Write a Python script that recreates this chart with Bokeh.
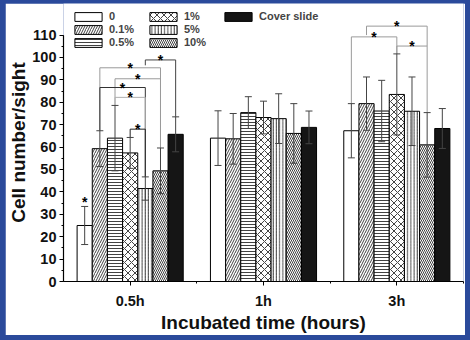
from bokeh.plotting import figure
from bokeh.models import (ColumnDataSource, Whisker, TeeHead, Range1d, FixedTicker,
                          SingleIntervalTicker)
from bokeh.layouts import column
from bokeh.embed import file_html
from bokeh.resources import INLINE
from bokeh.core.properties import value

# ---------------- data ----------------
groups = ["0.5h", "1h", "3h"]
series = ["0", "0.1%", "0.5%", "1%", "5%", "10%", "Cover slide"]

mean_0 = [25.0, 64.0, 67.3]
mean_01 = [59.3, 63.7, 79.4]
mean_05 = [64.0, 75.4, 76.1]
mean_1 = [57.4, 73.2, 83.5]
mean_5 = [41.5, 72.7, 76.0]
mean_10 = [49.4, 66.1, 61.0]
mean_cover = [65.7, 68.8, 68.3]

err_0 = [8.5, 12.2, 12.1]
err_01 = [8.0, 11.3, 11.9]
err_05 = [14.6, 7.1, 13.7]
err_1 = [6.9, 7.3, 18.1]
err_5 = [5.2, 11.1, 15.3]
err_10 = [10.2, 13.3, 14.4]
err_cover = [7.8, 7.3, 8.9]

# significance brackets: group index, left series, right series, height, leg ends
br_group = [0, 0, 0, 0, 0, 0, 2, 2, 2]
br_left = [1, 2, 1, 2, 3, 4, 0, 3, 1]
br_right = [5, 5, 4, 4, 4, 6, 3, 5, 5]
br_height = [95.4, 90.5, 86.6, 82.2, 68.0, 98.9, 109.2, 105.1, 114.0]
br_left_end = [67.3, 78.6, 67.3, 78.6, 64.3, 96.5, 79.4, 101.6, 110.0]
br_right_end = [59.6, 59.6, 46.7, 46.7, 46.7, 73.5, 101.6, 75.4, 105.1]
br_color = ["#9a9a9a", "#9a9a9a", "#333333", "#b0b0b0", "#222222", "#444444",
            "#9a9a9a", "#9a9a9a", "#9a9a9a"]

# single star above a bar
star_bar_group = [0]
star_bar_series = [0]
star_bar_y = [35.6]

means = [mean_0, mean_01, mean_05, mean_1, mean_5, mean_10, mean_cover]
errs = [err_0, err_01, err_05, err_1, err_5, err_10, err_cover]

# ---------------- styling ----------------
FONT = "Liberation Sans"
BLUE = "#2b4a9b"
BW = 0.1137
fills = ["white", "white", "white", "white", "white", "white", "#151515"]
hatches = [" ", "/", "-", "x", "|", "\\", " "]
hscales = [6, 5.0, 3.0, 7.0, 3.2, 4.0, 6]


def xpos(g, k):
    return g + 0.5 + (k - 3) * BW


p = figure(width=460, height=332, output_backend="svg", toolbar_location=None,
           x_range=Range1d(0, 3), y_range=Range1d(0, 124.1),
           min_border_left=57, min_border_right=2, min_border_top=0,
           min_border_bottom=51)
p.outline_line_color = None
p.background_fill_color = "white"
p.border_fill_color = "white"
p.xgrid.visible = False
p.ygrid.visible = False

for k, name in enumerate(series):
    xs = [xpos(g, k) for g in range(len(groups))]
    src = ColumnDataSource(dict(x=xs, top=means[k],
                                upper=[m + e for m, e in zip(means[k], errs[k])],
                                lower=[m - e for m, e in zip(means[k], errs[k])]))
    p.vbar(x="x", top="top", bottom=0, width=BW, source=src,
           fill_color=fills[k], line_color="black", line_width=1,
           hatch_pattern=hatches[k], hatch_scale=hscales[k], hatch_color="#111111",
           hatch_weight=0.8, legend_label=name)
    w = Whisker(base="x", upper="upper", lower="lower", source=src,
                line_color="#444444", line_width=1, level="annotation",
                upper_head=TeeHead(size=7, line_color="#444444", line_width=1),
                lower_head=TeeHead(size=7, line_color="#444444", line_width=1))
    p.add_layout(w)

# brackets
for i in range(len(br_group)):
    xl = xpos(br_group[i], br_left[i])
    xr = xpos(br_group[i], br_right[i])
    p.line([xl, xl, xr, xr], [br_left_end[i], br_height[i], br_height[i], br_right_end[i]],
           line_color=br_color[i], line_width=1)

star_x = [(xpos(g, l) + xpos(g, r)) / 2 for g, l, r in zip(br_group, br_left, br_right)]
star_x += [xpos(g, k) for g, k in zip(star_bar_group, star_bar_series)]
star_y = list(br_height) + list(star_bar_y)
p.text(x=star_x, y=star_y, text=["*"] * len(star_x), text_align="center",
       text_baseline="middle", text_font=value(FONT), text_font_style="bold",
       text_font_size="14px", text_color="black")

# axes
xa = p.xaxis[0]
xa.ticker = FixedTicker(ticks=[0.5, 1.5, 2.5], minor_ticks=[1, 2, 3])
xa.major_label_overrides = {0.5: "0.5h", 1.5: "1h", 2.5: "3h"}
xa.axis_label = "Incubated time (hours)"
ya = p.yaxis[0]
ya.ticker = SingleIntervalTicker(interval=10, num_minor_ticks=2)
ya.bounds = (0, 110)
ya.axis_label = "Cell number/sight"
for ax in (xa, ya):
    ax.axis_line_color = "black"
    ax.axis_line_width = 1.2
    ax.major_tick_line_color = "black"
    ax.minor_tick_line_color = "black"
    ax.major_tick_in = 0
    ax.major_tick_out = 4
    ax.minor_tick_in = 0
    ax.minor_tick_out = 2
    ax.major_label_text_font = FONT
    ax.major_label_text_font_style = "bold"
    ax.major_label_text_font_size = "14.5px"
    ax.major_label_text_color = "#111111"
    ax.axis_label_text_font = FONT
    ax.axis_label_text_font_style = "bold"
    ax.axis_label_text_font_size = "19px"
    ax.axis_label_text_color = "#111111"
xa.major_label_standoff = 7
xa.axis_label_standoff = 0
ya.major_label_standoff = 3
ya.axis_label_standoff = 0

# legend
lg = p.legend[0]
lg.location = (8, 233)
lg.orientation = "vertical"
lg.nrows = 3
lg.glyph_width = 34
lg.glyph_height = 11
lg.label_height = 9
lg.label_width = 36
lg.label_standoff = 4
lg.spacing = 1
lg.padding = 0
lg.margin = 0
lg.label_text_font = FONT
lg.label_text_font_style = "bold"
lg.label_text_font_size = "11px"
lg.background_fill_alpha = 0
lg.border_line_alpha = 0

layout = column(p, styles={"background-color": BLUE, "padding": "3px 5px 5px 5px"})

open("out.html", "w").write(file_html(layout, INLINE))
